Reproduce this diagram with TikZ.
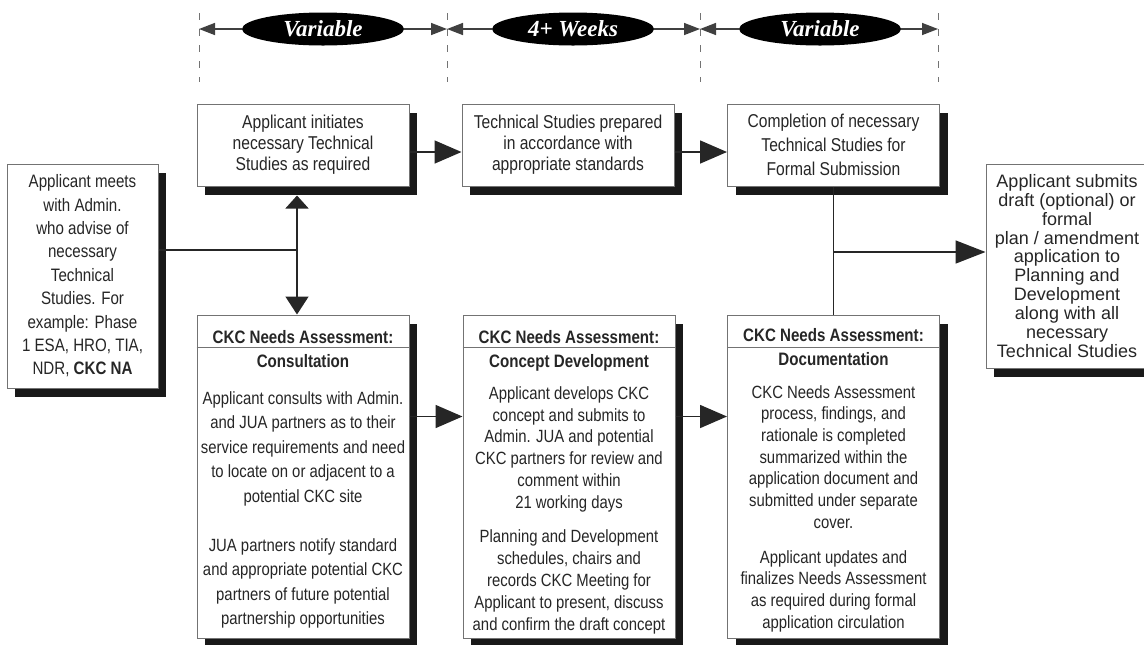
\documentclass[tikz,border=0pt]{standalone}
\usepackage{fontspec}
\setmainfont{Liberation Sans}
\newfontfamily\narrowfont{Liberation Sans}[FakeStretch=0.84]
\newfontfamily\timefont{Liberation Serif}
\usetikzlibrary{arrows.meta}
\usetikzlibrary{shadows, shapes.geometric, calc, math}
\definecolor{boxgray}{RGB}{115,115,115}

\begin{document}
\begin{tikzpicture}[x=0.5pt,y=-0.5pt,
  box/.style={draw=boxgray, line width=0.5pt, fill=white, inner sep=0pt, align=center, text=black!85,
    drop shadow={shadow xshift=4pt, shadow yshift=-4.5pt, fill=black!90, opacity=1}},
  topbox/.style={box, minimum width=106pt, minimum height=41pt},
  lowbox/.style={box, minimum width=106pt, minimum height=161.5pt},
  period/.style={ellipse, fill=black, text=white, inner sep=0pt, minimum width=81pt, minimum height=16.5pt,
    font=\timefont\bfseries\itshape\fontsize{11.5}{12}\selectfont},
  tline/.style={draw=black!75, line width=0.75pt, -{Triangle[length=8pt,width=6pt]}},
  guide/.style={draw=black!55, line width=0.5pt, dash pattern=on 3.5pt off 4.5pt},
  conn/.style={draw=black!85, line width=0.8pt},
  tip/.style={-{Triangle[length=13.5pt,width=11.5pt]}},
  head/.style={font=\narrowfont\bfseries\fontsize{9}{12}\selectfont, align=center, inner sep=0pt,
    text=black!85, anchor=north},
  body/.style={align=center, inner sep=0pt, text=black!85, anchor=north}
]
\tikzmath{
\ytop=145;
\ybot=476.5;
}
\useasboundingbox (0,0) rectangle (1144,644);

% time line
\foreach \x [count=\i] in {199,447,700,938}{
  \draw[guide] (\x,13) -- (\x,82);
  \coordinate (t\i) at (\x,29);
}
\node[period] (var1) at (323,29) {Variable};
\node[period] (wks) at (573,29) {4+ Weeks};
\node[period] (var2) at (820,29) {Variable};
\draw[tline] (var1) -- (t1);
\draw[tline] (var1) -- (t2);
\draw[tline] (wks) -- (t2);
\draw[tline] (wks) -- (t3);
\draw[tline] (var2) -- (t3);
\draw[tline] (var2) -- (t4);

% boxes
\node[box, minimum width=75.5pt, minimum height=112pt, font=\narrowfont\fontsize{9}{11.7}\selectfont]
  (meet) at (82.5,276) {Applicant meets\\with Admin.\\who advise of\\necessary\\Technical\\Studies. For\\
  example: Phase\\1 ESA, HRO, TIA,\\NDR, \textbf{CKC NA}};
\node[topbox, font=\narrowfont\fontsize{9.3}{10.5}\selectfont] (init) at (303,\ytop)
  {Applicant initiates\\necessary Technical\\Studies as required};
\node[topbox, font=\narrowfont\fontsize{9.3}{10.5}\selectfont] (prep) at (568,\ytop)
  {Technical Studies prepared\\in accordance with\\appropriate standards};
\node[topbox, font=\narrowfont\fontsize{9.3}{12}\selectfont] (compl) at (833.5,\ytop)
  {Completion of necessary\\Technical Studies for\\Formal Submission};
\node[box, minimum width=81pt, minimum height=102pt, font=\fontsize{9}{9.45}\selectfont]
  (submit) at (1067,266) {Applicant submits\\draft (optional) or\\formal\\plan / amendment\\application to\\
  Planning and\\Development\\along with all\\necessary\\Technical Studies};

\node[lowbox] (consult) at (303,\ybot) {};
\node[lowbox] (concept) at (569,\ybot) {};
\node[lowbox] (docu) at (833.5,\ybot) {};
\foreach \b in {consult,concept,docu}
  \draw[boxgray, line width=0.5pt] ([yshift=-16.5pt]\b.north west) -- ([yshift=-16.5pt]\b.north east);

\node[head] at ([yshift=-8pt]consult.north) {CKC Needs Assessment:\\Consultation};
\node[head] at ([yshift=-8pt]concept.north) {CKC Needs Assessment:\\Concept Development};
\node[head] at ([yshift=-7pt]docu.north) {CKC Needs Assessment:\\Documentation};

\node[body, font=\narrowfont\fontsize{8.85}{12.25}\selectfont] (consulttxt) at ([yshift=-38.2pt]consult.north)
  {Applicant consults with Admin.\\and JUA partners as to their\\service requirements and need\\
  to locate on or adjacent to a\\potential CKC site\\[12.25pt]JUA partners notify standard\\
  and appropriate potential CKC\\partners of future potential\\partnership opportunities};
\node[body, font=\narrowfont\fontsize{8.85}{10.95}\selectfont] (concepttxt) at ([yshift=-35.7pt]concept.north)
  {Applicant develops CKC\\concept and submits to\\Admin. JUA and potential\\CKC partners for review and\\
  comment within\\21 working days\\[6pt]Planning and Development\\schedules, chairs and\\
  records CKC Meeting for\\Applicant to present, discuss\\and confirm the draft concept};
\node[body, font=\narrowfont\fontsize{8.85}{10.85}\selectfont] (docutxt) at ([yshift=-35.2pt]docu.north)
  {CKC Needs Assessment\\process, findings, and\\rationale is completed\\summarized within the\\
  application document and\\submitted under separate\\cover.\\[6.6pt]Applicant updates and\\
  finalizes Needs Assessment\\as required during formal\\application circulation};

% connectors
\coordinate (jl) at (297,250);
\coordinate (jr) at (834,252);
\draw[conn] (meet.east |- jl) -- (jl);
\draw[conn, -{Triangle[length=6.5pt,width=11.5pt]}, shorten >=4.5pt] (jl) -- (jl |- init.south);
\draw[conn, -{Triangle[length=9pt,width=11.5pt]}] (jl) -- (jl |- consult.north);
\draw[conn, tip] ([yshift=-3.5pt]init.east) -- ([yshift=-3.5pt]prep.west);
\draw[conn, tip] ([yshift=-3.5pt]prep.east) -- ([yshift=-3.5pt]compl.west);
\draw[conn] (compl.south) -- (docu.north);
\draw[conn, -{Triangle[length=15pt,width=11.5pt]}] (jr) -- (jr -| submit.west);
\draw[conn, tip] ([yshift=-51pt]consult.north east) -- ([yshift=-51pt]concept.north west);
\draw[conn, tip] ([yshift=-51pt]concept.north east) -- ([yshift=-51pt]docu.north west);
\end{tikzpicture}
\end{document}
